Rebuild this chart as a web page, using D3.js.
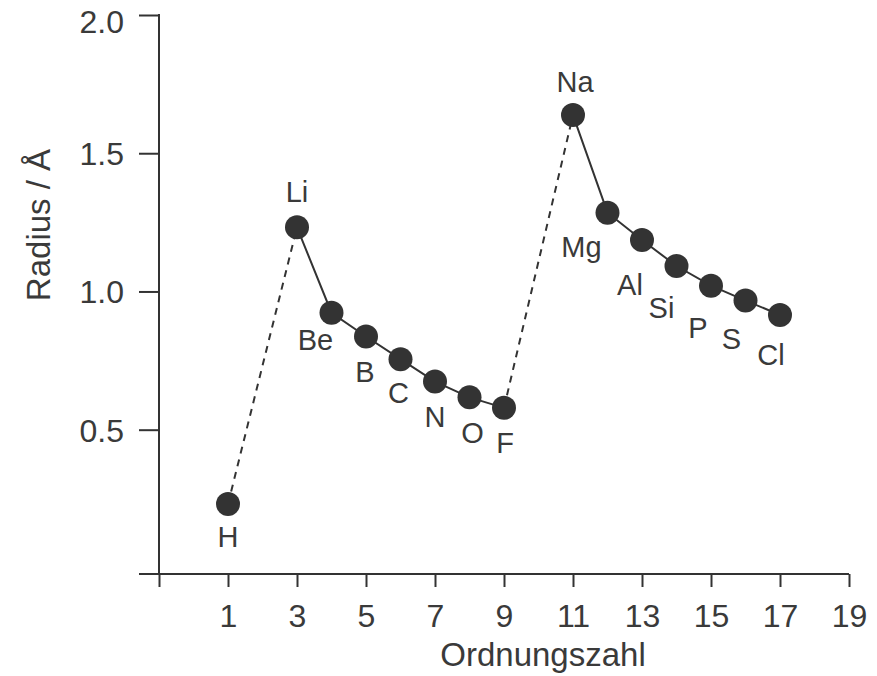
<!DOCTYPE html>
<html>
<head>
<meta charset="utf-8">
<script src="https://cdn.jsdelivr.net/npm/d3@7"></script>
<style>
  body { margin: 0; background: #fff; }
  text { font-family: "Liberation Sans", Arial, sans-serif; fill: #3a3a3a; }
</style>
</head>
<body>
<div id="chart"></div>
<script>
// data
const elements = ["H", "Li", "Be", "B", "C", "N", "O", "F", "Na", "Mg", "Al", "Si", "P", "S", "Cl"];
const atomicNumbers = [1, 3, 4, 5, 6, 7, 8, 9, 11, 12, 13, 14, 15, 16, 17];
const radii = [0.231, 1.232, 0.923, 0.837, 0.755, 0.674, 0.617, 0.579, 1.638, 1.285, 1.186, 1.092, 1.021, 0.967, 0.915];
const periods = [1, 2, 2, 2, 2, 2, 2, 2, 3, 3, 3, 3, 3, 3, 3];
const xTicks = [-1, 1, 3, 5, 7, 9, 11, 13, 15, 17, 19];
const yTicks = [0.5, 1.0, 1.5, 2.0];

// where each element name sits relative to its dot
const labelOffset = {
    H: [0, 43], Li: [0, -25], Be: [-16, 37], B: [-1, 45], C: [-2, 44], N: [0, 45], O: [3, 46], F: [1, 45],
    Na: [2, -23], Mg: [-26, 44], Al: [-12, 55], Si: [-15, 52], P: [-13, 52], S: [-14, 48], Cl: [-9, 50]
};

const w = 877;
const h = 676;
const ink = "#333";

const dataset = elements.map((el, i) => ({ el: el, z: atomicNumbers[i], r: radii[i], p: periods[i] }));

const xScale = d3.scaleLinear().domain([-1, 19]).range([159, 849]);
const yScale = d3.scaleLinear().domain([-0.022, 2.0]).range([574, 15]);

const svg = d3.select("#chart")
              .append("svg")
              .attr("width", w)
              .attr("height", h)
              .style("background", "white");

// x axis
const xAxis = d3.axisBottom(xScale)
                .tickValues(xTicks)
                .tickSize(13)
                .tickSizeOuter(0)
                .tickPadding(17)
                .tickFormat(d => d < 0 ? "" : d);

const gx = svg.append("g")
   .attr("transform", "translate(0," + yScale.range()[0] + ")")
   .call(xAxis);
gx.select(".domain").remove();
gx.append("line")
   .attr("x1", xScale(-1) - 20)
   .attr("x2", xScale(19))
   .attr("stroke", ink)
   .attr("stroke-width", 2);
gx.selectAll(".tick line").attr("stroke", ink).attr("stroke-width", 2);
gx.selectAll(".tick text")
   .attr("fill", "#3a3a3a")
   .style("font-size", "32px")
   .style("font-family", "Liberation Sans, Arial, sans-serif");

// y axis
const yAxis = d3.axisLeft(yScale)
                .tickValues(yTicks)
                .tickSize(20)
                .tickSizeOuter(0)
                .tickPadding(15)
                .tickFormat(d3.format(".1f"));

const gy = svg.append("g")
   .attr("transform", "translate(" + xScale(-1) + ",0)")
   .call(yAxis);
gy.select(".domain").remove();
gy.append("line")
   .attr("y1", yScale(2.0) - 1)
   .attr("y2", yScale.range()[0])
   .attr("stroke", ink)
   .attr("stroke-width", 2);
gy.selectAll(".tick line").attr("stroke", ink).attr("stroke-width", 2);
gy.selectAll(".tick text")
   .attr("fill", "#3a3a3a")
   .attr("dy", d => d === 2.0 ? "0.56em" : "0.36em") // top label sits a bit low, as in the original
   .style("font-size", "32px")
   .style("font-family", "Liberation Sans, Arial, sans-serif");

// axis titles
svg.append("text")
   .attr("x", 543)
   .attr("y", 666)
   .attr("text-anchor", "middle")
   .style("font-size", "33px")
   .text("Ordnungszahl");

svg.append("text")
   .attr("transform", "translate(50,225) rotate(-90)")
   .attr("text-anchor", "middle")
   .style("font-size", "33px")
   .text("Radius / Å");

// lines: solid inside a period, dashed from one period to the next
const line = d3.line().x(d => xScale(d.z)).y(d => yScale(d.r));

d3.groups(dataset, d => d.p).forEach(([p, pts]) => {
    svg.append("path")
       .datum(pts)
       .attr("d", line)
       .attr("fill", "none")
       .attr("stroke", ink)
       .attr("stroke-width", 2);
});

for (let i = 1; i < dataset.length; i++) {
    if (dataset[i].p !== dataset[i - 1].p) {
        svg.append("path")
           .datum([dataset[i - 1], dataset[i]])
           .attr("d", line)
           .attr("fill", "none")
           .attr("stroke", ink)
           .attr("stroke-width", 2)
           .attr("stroke-dasharray", "7,6");
    }
}

// dots
svg.selectAll("circle")
   .data(dataset)
   .enter()
   .append("circle")
   .attr("cx", d => xScale(d.z))
   .attr("cy", d => yScale(d.r))
   .attr("r", 12)
   .attr("fill", "#333");

// element names
svg.selectAll(".elabel")
   .data(dataset)
   .enter()
   .append("text")
   .attr("class", "elabel")
   .attr("x", d => xScale(d.z) + labelOffset[d.el][0])
   .attr("y", d => yScale(d.r) + labelOffset[d.el][1])
   .attr("text-anchor", "middle")
   .style("font-size", "29px")
   .text(d => d.el);
</script>
</body>
</html>
